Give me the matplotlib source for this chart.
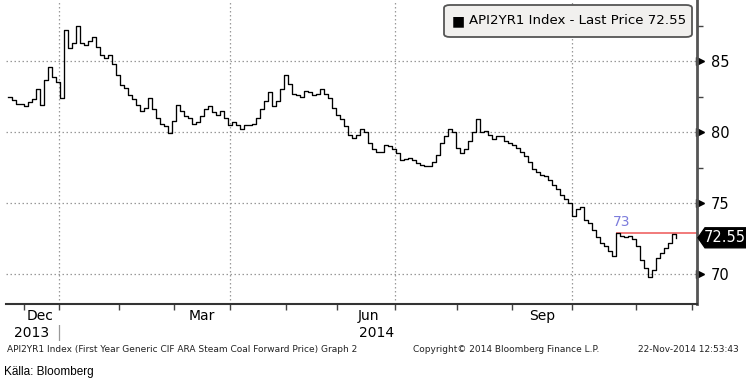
import numpy as np
import matplotlib
matplotlib.use('Agg')
import matplotlib.pyplot as plt
import matplotlib.transforms as mtransforms
from matplotlib.patches import FancyBboxPatch, Polygon

price = [82.5, 82.25, 82.0, 82.0, 81.8, 82.1, 82.3, 83.0, 81.9, 83.7,
         84.6, 83.9, 83.5, 82.4, 87.2, 85.9, 86.3, 87.5, 86.3, 86.1,
         86.4, 86.7, 86.0, 85.4, 85.2, 85.4, 84.8, 84.0, 83.3, 83.1,
         82.6, 82.3, 81.9, 81.5, 81.7, 82.4, 81.6, 81.0, 80.6, 80.4,
         79.9, 80.8, 81.9, 81.5, 81.1, 81.0, 80.6, 80.7, 81.1, 81.6,
         81.8, 81.4, 81.2, 81.5, 81.0, 80.5, 80.7, 80.5, 80.2, 80.5,
         80.5, 80.6, 81.0, 81.6, 82.2, 82.8, 81.8, 82.2, 83.0, 84.0,
         83.4, 82.7, 82.6, 82.5, 82.9, 82.8, 82.6, 82.7, 83.0, 82.7,
         82.4, 81.7, 81.2, 80.9, 80.4, 79.8, 79.6, 79.8, 80.2, 80.0,
         79.2, 78.8, 78.6, 78.6, 79.1, 79.0, 78.8, 78.5, 78.0, 78.1,
         78.2, 78.0, 77.8, 77.7, 77.6, 77.6, 77.9, 78.4, 79.2, 79.7,
         80.2, 80.0, 78.9, 78.5, 78.8, 79.4, 80.0, 80.9, 80.0, 80.1,
         79.8, 79.5, 79.7, 79.7, 79.4, 79.2, 79.1, 78.9, 78.6, 78.3,
         77.9, 77.4, 77.2, 77.0, 76.9, 76.6, 76.3, 76.0, 75.6, 75.3,
         75.0, 74.1, 74.6, 74.7, 73.8, 73.6, 73.1, 72.6, 72.2, 72.0,
         71.6, 71.3, 72.9, 72.7, 72.6, 72.7, 72.5, 72.0, 71.0, 70.4,
         69.8, 70.3, 71.1, 71.5, 71.8, 72.2, 72.8, 72.55]

last_price = 72.55
mark_level = 72.9
mark_start = 152
mark_label = '73'

# month boundaries (observation index) and labels
grid_pos = [12.7, 55.5, 96.75, 141]
minor_pos = [4, 27.75, 41.5, 69.5, 82.25, 112.25, 126, 157, 171]
month_labels = ['Dec', 'Mar', 'Jun', 'Sep']
month_label_pos = [8, 48.5, 90, 133.5]
year_labels = ['2013', '2014']
year_label_pos = [6, 92.25]
y_major = [70, 75, 80, 85]
y_minor = [72.5, 77.5, 82.5, 87.5]

x = np.arange(len(price))

fig = plt.figure(figsize=(7.46, 3.80), dpi=100)
ax = fig.add_axes([6 / 746, 0.2, 691 / 746, 0.8])

ax.step(x, price, where='post', color='black', lw=0.95, zorder=3)
ax.hlines(mark_level, mark_start, 175, color='#f07070', lw=1.3, zorder=2, clip_on=True)
ax.text(mark_start + 1.5, mark_level + 0.25, mark_label, color='#7c7cdc',
        fontsize=10, ha='center', va='bottom')

ax.set_xlim(-0.5, 172.25)
ax.set_ylim(67.89, 89.3)

for gx in grid_pos:
    ax.axvline(gx, color='#999999', lw=0.9, ls=(0, (1.2, 2)), zorder=1)
for gy in y_major:
    ax.axhline(gy, color='#999999', lw=0.9, ls=(0, (1.2, 2)), zorder=1)

for s in ['left', 'top']:
    ax.spines[s].set_visible(False)
ax.spines['right'].set_color('#555555')
ax.spines['right'].set_linewidth(2)
ax.spines['bottom'].set_color('#333333')
ax.spines['bottom'].set_linewidth(1.5)

ax.set_xticks(grid_pos + minor_pos)
ax.set_xticklabels([])
ax.tick_params(axis='x', length=4, color='#444444', width=1)

ax.yaxis.tick_right()
ax.set_yticks(y_major)
ax.set_yticks(y_minor, minor=True)
ax.tick_params(axis='y', which='major', length=0, pad=10, labelsize=10.5)
ax.tick_params(axis='y', which='minor', length=4, color='#444444', width=1)
ytr = mtransforms.blended_transform_factory(ax.transAxes, ax.transData)
ax.plot([1.004] * len(y_major), y_major, ls='none', marker='>', ms=6,
        color='black', transform=ytr, clip_on=False)

xtr = ax.get_xaxis_transform()
for lab, p in zip(month_labels, month_label_pos):
    ax.text(p, -0.04, lab, transform=xtr, ha='center', va='center', fontsize=10)
for lab, p in zip(year_labels, year_label_pos):
    ax.text(p, -0.095, lab, transform=xtr, ha='center', va='center', fontsize=10)
ax.text(grid_pos[0], -0.095, '|', transform=xtr, ha='center', va='center',
        fontsize=11, color='#999999')

# last price tag on the right axis
tag_y = 1 - (61 + (85 - last_price) * 14.2) / 380
tag = Polygon([(698 / 746, tag_y), (705 / 746, tag_y + 10 / 380),
               (746 / 746, tag_y + 10 / 380), (746 / 746, tag_y - 10 / 380),
               (705 / 746, tag_y - 10 / 380)], closed=True,
              transform=fig.transFigure, color='black', clip_on=False)
fig.patches.append(tag)
fig.text(725 / 746, tag_y, f'{last_price:.2f}', color='white', fontsize=10.5,
         ha='center', va='center')

# legend box
box = FancyBboxPatch((444 / 746, 1 - 37 / 380), 248 / 746, 32 / 380,
                     boxstyle='round,pad=0,rounding_size=0.008',
                     transform=fig.transFigure, facecolor='#f1f0ee',
                     edgecolor='#555555', lw=1.3)
fig.patches.append(box)
fig.text(452 / 746, 1 - 21 / 380, '\u25a0', fontsize=10, va='center', ha='left')
fig.text(469 / 746, 1 - 21 / 380, 'API2YR1 Index - Last Price 72.55',
         fontsize=9.6, va='center', ha='left')

fig.text(7 / 746, 1 - 350 / 380,
         'API2YR1 Index (First Year Generic CIF ARA Steam Coal Forward Price) Graph 2',
         fontsize=6.5, va='center', ha='left', color='#222222')
fig.text(413 / 746, 1 - 350 / 380, 'Copyright\u00a9 2014 Bloomberg Finance L.P.',
         fontsize=6.5, va='center', ha='left', color='#222222')
fig.text(739 / 746, 1 - 350 / 380, '22-Nov-2014 12:53:43',
         fontsize=6.5, va='center', ha='right', color='#222222')
fig.text(4 / 746, 1 - 372 / 380, 'Källa: Bloomberg', fontsize=8.5,
         family=['Liberation Sans Narrow', 'Liberation Sans', 'DejaVu Sans'],
         va='center', ha='left')

fig.savefig('out.png', dpi=100)
